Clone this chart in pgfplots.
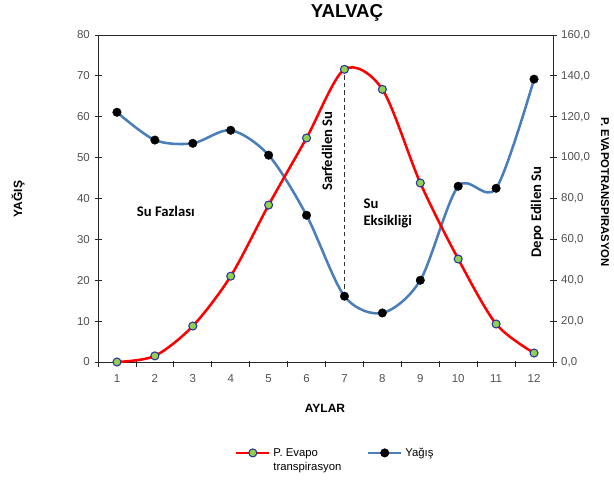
\documentclass[border=0pt]{standalone}
\usepackage{fontspec}
\setmainfont{Liberation Sans}
\newfontfamily\calfont{Carlito}
\usepackage{pgfplots}
\pgfplotsset{compat=1.18}

\definecolor{etred}{RGB}{255,0,0}
\definecolor{rainblue}{RGB}{74,126,187}
\definecolor{markgreen}{RGB}{146,208,80}
\definecolor{markedge}{RGB}{40,50,160}
\definecolor{ticktext}{RGB}{80,80,80}

% monthly precipitation (left axis, mm)
\pgfplotstableread{
ay yagis
1  61.1
2  54.3
3  53.5
4  56.7
5  50.6
6  35.9
7  16.1
8  12.0
9  20.0
10 43.0
11 42.5
12 69.2
}\yagis

% potential evapotranspiration (right axis, mm)
\pgfplotstableread{
ay pet
1  0.0
2  3.0
3  17.6
4  42.0
5  76.8
6  109.6
7  143.2
8  133.4
9  87.6
10 50.4
11 18.6
12 4.4
}\pet

\pgfplotsset{
  petstyle/.style={etred, line width=1.9pt, smooth, tension=0.5,
    mark=*, mark size=3pt,
    mark options={fill=markgreen, draw=markedge, line width=0.8pt, solid}},
  yagisstyle/.style={rainblue, line width=1.9pt, smooth, tension=0.5,
    mark=*, mark size=3.2pt,
    mark options={fill=black, draw=black, line width=0.3pt, solid}},
  common/.style={
    at={(73.5pt,87.75pt)}, anchor=south west,
    scale only axis, width=341.25pt, height=245.25pt,
    xmin=0.5, xmax=12.5, ymin=0,
    tick align=center,
    major tick length=5.25pt,
    tick style={black!85, line width=0.6pt},
    axis line style={black!85, line width=0.6pt},
    tick label style={font=\fontsize{8.6}{10}\selectfont, color=ticktext},
    /pgf/number format/assume math mode=true,
  },
}

\begin{document}
\begin{tikzpicture}
\path[use as bounding box] (0,0) rectangle (460.5pt,359.25pt);

% precipitation on the left axis
\begin{axis}[common,
  ymax=80, ytick={0,10,...,80}, ytick pos=left,
  xtick={1,...,12}, xtick pos=bottom, major x tick style={draw=none},
  minor xtick={0.5,1.5,...,12.5},
  minor x tick style={yshift=-1.6pt},
  minor tick length=4.5pt,
  xticklabel style={yshift=-3pt},
  clip=false,
]
\addplot[black!80, line width=0.9pt, dash pattern=on 3.2pt off 2.4pt]
  coordinates {(7,16.1) (7,71.6)};
\addplot[yagisstyle] table[x=ay, y=yagis] {\yagis};

\node[font=\calfont\bfseries\fontsize{11}{13}\selectfont] at (axis cs:2.29,36.9) {Su Fazlası};
\node[font=\calfont\bfseries\fontsize{11}{13}\selectfont, rotate=90] at (axis cs:6.54,51.6) {Sarfedilen Su};
\node[font=\calfont\bfseries\fontsize{11}{13}\selectfont, align=left, anchor=west] at (axis cs:7.38,36.3) {Su\\Eksikliği};
\node[font=\calfont\bfseries\fontsize{11}{13}\selectfont, rotate=90] at (axis cs:12.08,36.7) {Depo Edilen Su};
\end{axis}

% evapotranspiration on the right axis
\begin{axis}[common,
  ymax=160, ytick={0,20,...,160}, ytick pos=right,
  xtick=\empty,
  yticklabel style={/pgf/number format/.cd, fixed, fixed zerofill, precision=1, use comma},
  legend columns=2,
  legend style={draw=none, fill=none, at={(0.522,-0.278)}, anchor=center,
    font=\fontsize{8.5}{10.5}\selectfont,
    /tikz/every odd column/.append style={column sep=0pt},
    /tikz/every even column/.append style={column sep=17pt}},
  legend cell align=left,
  legend image code/.code={\draw[mark repeat=2, mark phase=2]
    plot coordinates {(0pt,0pt) (12.5pt,0pt) (25pt,0pt)};},
]
\addplot[petstyle] table[x=ay, y=pet] {\pet};
\addlegendentry{\begin{tabular}[t]{@{}l@{}}P. Evapo\\transpirasyon\end{tabular}}
\addlegendimage{yagisstyle}
\addlegendentry{Yağış}
\end{axis}

% titles
\node[font=\bfseries\fontsize{14}{16}\selectfont] at ({347*0.75pt},{(479-13)*0.75pt}) {YALVAÇ};
\node[font=\bfseries\fontsize{9}{11}\selectfont] at ({325*0.75pt},{(479-408)*0.75pt}) {AYLAR};
\node[font=\bfseries\fontsize{9}{11}\selectfont, rotate=90] at ({18*0.75pt},{(479-199)*0.75pt}) {YAĞIŞ};
\node[font=\bfseries\fontsize{8.5}{10}\selectfont, rotate=-90] at ({605*0.75pt},{(479-192)*0.75pt}) {P. EVAPOTRANSPIRASYON};
\end{tikzpicture}
\end{document}
